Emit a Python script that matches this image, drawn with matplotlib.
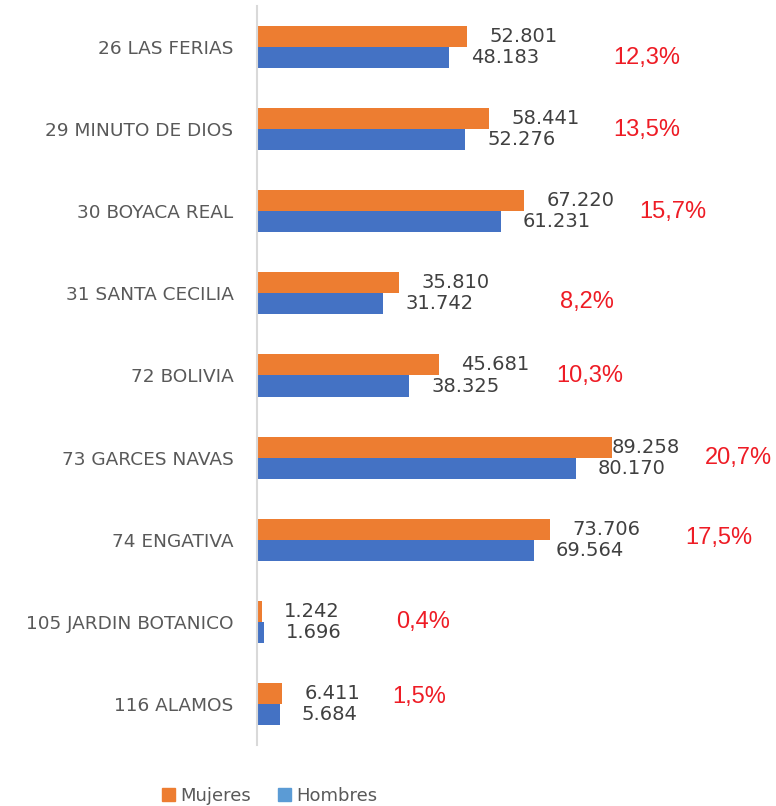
import numpy as np
import matplotlib
matplotlib.use('Agg')
import matplotlib.pyplot as plt
from matplotlib.patches import Patch

categorias = ['26 LAS FERIAS', '29 MINUTO DE DIOS', '30 BOYACA REAL', '31 SANTA CECILIA',
              '72 BOLIVIA', '73 GARCES NAVAS', '74 ENGATIVA', '105 JARDIN BOTANICO', '116 ALAMOS']
mujeres = [52.801, 58.441, 67.220, 35.810, 45.681, 89.258, 73.706, 1.242, 6.411]
hombres = [48.183, 52.276, 61.231, 31.742, 38.325, 80.170, 69.564, 1.696, 5.684]
porcentajes = ['12,3%', '13,5%', '15,7%', '8,2%', '10,3%', '20,7%', '17,5%', '0,4%', '1,5%']

# where the red percentage boxes sit (x in data units, y shift in category units)
pct_x = [89.5, 89.5, 96.0, 76.2, 75.2, 112.6, 107.6, 35.0, 34.0]
pct_dy = [0.13, 0.01, 0.01, 0.11, 0.01, 0.0, -0.02, 0.0, -0.09]
# label offset in points for the mujeres labels (one was moved by hand)
off_m = [16, 16, 16, 16, 16, 0, 16, 16, 16]

naranja = '#ED7D31'
azul = '#4472C4'
gris = '#404040'

fig = plt.figure(figsize=(7.76, 8.06), dpi=100)
ax = fig.add_axes([257/776, 61/806, 519/776, 739/806])

y = np.arange(len(categorias))
h = 0.256
ax.barh(y - h/2, mujeres, height=h, color=naranja)
ax.barh(y + h/2, hombres, height=h, color=azul)

def fmt(v):
    return f'{v:.3f}'

for i in range(len(categorias)):
    ax.annotate(fmt(mujeres[i]), (mujeres[i], y[i] - h/2), xytext=(off_m[i], 0),
                textcoords='offset points', va='center', ha='left',
                fontsize=14, color=gris, family='DejaVu Sans')
    ax.annotate(fmt(hombres[i]), (hombres[i], y[i] + h/2), xytext=(16, 0),
                textcoords='offset points', va='center', ha='left',
                fontsize=14, color=gris, family='DejaVu Sans')
    ax.text(pct_x[i], y[i] + pct_dy[i], porcentajes[i], va='center', ha='left',
            fontsize=17, color='#EE1C25', family='Liberation Sans')

ax.set_xlim(0, 519/3.977)
ax.set_ylim(len(categorias) - 0.5, -0.5)
ax.set_yticks(y)
ax.set_yticklabels(categorias, fontsize=13.3, color='#595959')
ax.tick_params(axis='y', length=0, pad=17)
ax.set_xticks([])
for s in ['top', 'right', 'bottom']:
    ax.spines[s].set_visible(False)
ax.spines['left'].set_color('#D9D9D9')
ax.spines['left'].set_linewidth(1.5)

handles = [Patch(color=naranja, label='Mujeres'), Patch(color='#5B9BD5', label='Hombres')]
fig.legend(handles=handles, loc='center', bbox_to_anchor=(270/776, 1 - 796/806), ncol=2,
           frameon=False, fontsize=13, labelcolor='#595959', handlelength=0.7,
           handleheight=0.7, handletextpad=0.3, columnspacing=1.5)

plt.savefig('out.png', dpi=100)
